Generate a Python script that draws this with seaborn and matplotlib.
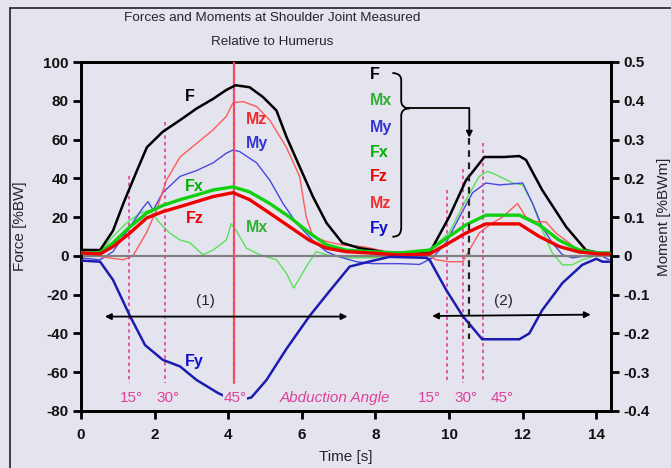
import numpy as np
import pandas as pd
import matplotlib
matplotlib.use("Agg")
import matplotlib.pyplot as plt
from matplotlib.path import Path
from matplotlib.patches import PathPatch
from matplotlib.lines import Line2D
import seaborn as sns

# ---------------- data ----------------
t_F = [0, 0.52, 0.87, 1.15, 1.52, 1.79, 2.22, 2.69, 3.14, 3.59, 3.95, 4.2, 4.58, 4.94, 5.31, 5.58,
       5.94, 6.3, 6.67, 7.1, 7.57, 7.92, 8.3, 8.93, 9.47, 10.0, 10.46, 10.96, 11.5, 11.91, 12.09,
       12.53, 13.18, 13.72, 14.08, 14.35]
F = [3.1, 3, 13, 27, 44, 56, 64, 70, 76, 81, 85.6, 88, 87, 82, 75, 61.5,
     46, 30.6, 17, 6.7, 4, 3, 1.5, 1.7, 1.5, 20, 39, 51, 51, 51.5, 49.5,
     34, 15, 3, 1.5, 1.5]

t_Fxz = [0, 0.52, 0.87, 1.33, 1.78, 2.22, 2.69, 3.14, 3.59, 4.13, 4.58, 5.13, 5.67, 6.21, 6.67,
         7.2, 7.84, 8.65, 9.47, 10.0, 10.46, 11.0, 11.91, 12.45, 13.0, 13.54, 14.08, 14.35]
Fx = [1.5, 1.7, 6.7, 15, 22, 26, 29, 31.4, 34, 35.6, 33, 27, 20, 11.8, 5.7,
      3, 2.2, 1.5, 3, 10, 16, 21, 21, 16, 8, 3, 1.5, 1.5]
Fz = [1.5, 1, 4.8, 11.8, 19.5, 22.8, 25.4, 28, 30.6, 32.6, 29, 22, 15, 8, 4,
      2.2, 1.5, 0.5, 1, 6.7, 11.8, 16.5, 16.5, 10, 4.8, 2, 1, 1]

t_Fy = [0, 0.52, 0.87, 1.33, 1.74, 2.22, 2.69, 3.14, 3.72, 4.2, 4.63, 5.04, 5.58, 6.21, 6.76,
        7.3, 7.84, 8.38, 9.38, 9.47, 9.92, 10.37, 10.9, 11.91, 12.18, 12.53, 13.08, 13.62,
        14.0, 14.17, 14.35]
Fy = [-2.4, -3, -12.4, -31, -46, -53.6, -57, -64, -70.7, -75, -73, -64, -48, -31, -18,
      -5.5, -2.9, -0.5, -1, -2, -17.5, -31, -43, -43, -40, -28, -14, -4.6,
      -1.5, -3, -3]

t_Mx = [0, 0.52, 0.87, 1.24, 1.6, 1.87, 2.14, 2.41, 2.69, 2.96, 3.31, 3.59, 3.95, 4.08, 4.22,
        4.49, 4.86, 5.31, 5.58, 5.78, 6.12, 6.39, 6.67, 7.2, 7.9, 8.65, 9.47, 10.0, 10.46,
        10.82, 11.04, 11.28, 11.73, 12.0, 12.27, 12.53, 12.8, 13.08, 13.35, 13.62, 14.08, 14.35]
Mx = [0.003, 0.011, 0.05, 0.085, 0.11, 0.118, 0.085, 0.059, 0.041, 0.034, 0.003, 0.015, 0.041,
      0.083, 0.065, 0.02, 0.003, -0.01, -0.045, -0.083, -0.028, 0.011, 0.003, -0.005, -0.005,
      0.003, 0.015, 0.059, 0.145, 0.205, 0.218, 0.209, 0.188, 0.183, 0.135, 0.067, 0.008,
      -0.023, -0.023, -0.01, 0.003, 0.0]

t_My = [0, 0.52, 0.87, 1.33, 1.69, 1.82, 1.96, 2.22, 2.69, 3.14, 3.59, 3.95, 4.13, 4.31, 4.77,
        5.13, 5.49, 5.85, 6.3, 6.67, 6.94, 7.48, 7.92, 8.65, 9.2, 9.55, 9.92, 10.28, 10.64,
        11.0, 11.37, 12.0, 12.27, 12.53, 12.8, 13.08, 13.35, 13.72, 14.08, 14.35]
My = [-0.005, -0.010, 0.011, 0.075, 0.125, 0.14, 0.118, 0.163, 0.205, 0.22, 0.24, 0.265, 0.273,
      0.269, 0.24, 0.195, 0.135, 0.085, 0.04, 0.011, 0.0, -0.015, -0.02, -0.02, -0.022, -0.005,
      0.034, 0.10, 0.163, 0.188, 0.183, 0.188, 0.135, 0.075, 0.034, 0.003, -0.005, 0.0, 0.003,
      -0.010]

t_Mz = [0, 0.52, 1.15, 1.41, 1.78, 2.05, 2.32, 2.69, 3.14, 3.59, 3.95, 4.13, 4.4, 4.77, 5.13,
        5.58, 5.94, 6.12, 6.3, 6.67, 7.1, 7.66, 8.3, 8.65, 9.47, 9.65, 10.0, 10.37, 10.55,
        10.82, 11.1, 11.45, 11.86, 12.09, 12.36, 12.63, 12.9, 13.27, 13.54, 14.08, 14.35]
Mz = [0.011, -0.002, -0.010, 0.0, 0.060, 0.118, 0.195, 0.255, 0.29, 0.325, 0.36, 0.395, 0.398,
      0.385, 0.35, 0.28, 0.205, 0.10, 0.05, 0.037, 0.028, 0.024, 0.011, 0.003, 0.0, -0.010,
      -0.015, -0.015, 0.015, 0.059, 0.08, 0.10, 0.135, 0.10, 0.088, 0.088, 0.059, 0.033,
      0.008, 0.008, 0.005]

force_ticks = [100, 80, 60, 40, 20, 0, -20, -40, -60, -80]
moment_ticks = [0.5, 0.4, 0.3, 0.2, 0.1, 0, -0.1, -0.2, -0.3, -0.4]
moment_labels = ["0.5", "0.4", "0.3", "0.2", "0.1", "0", "-0.1", "-0.2", "-0.3", "-0.4"]
time_ticks = [0, 2, 4, 6, 8, 10, 12, 14]

legend_names = ["F", "Mx", "My", "Fx", "Fz", "Mz", "Fy"]
angle_labels = ["15°", "30°", "45°"]
angle_times_1 = [1.31, 2.28, 4.15]
angle_times_2 = [9.94, 10.39, 10.91]

# ---------------- style ----------------
BG = "#E4E4EE"
sns.set_theme(style="white", rc={"axes.facecolor": BG, "figure.facecolor": BG,
                                 "savefig.facecolor": BG})
plt.rcParams["font.family"] = ["Liberation Sans", "DejaVu Sans"]
plt.rcParams["axes.unicode_minus"] = False

fig = plt.figure(figsize=(6.71, 4.68), dpi=100)
ax = fig.add_axes([81 / 671, 57 / 468, 530 / 671, 349 / 468])
ax2 = ax.twinx()

C_F = "#000000"
C_FX = "#10D010"
C_FZ = "#EE0000"
C_FY = "#1C1CB0"
C_MX = "#5CE05C"
C_MY = "#4848E0"
C_MZ = "#FF5A5A"
PINK = "#E0409A"

# zero line
ax.axhline(0, color="#808080", lw=1.6, zorder=1)

# moments (right axis)
for tt, vv, cc in [(t_Mx, Mx, C_MX), (t_My, My, C_MY), (t_Mz, Mz, C_MZ)]:
    sns.lineplot(x=tt, y=vv, ax=ax2, color=cc, lw=1.0, estimator=None, zorder=2)

# forces (left axis)
sns.lineplot(x=t_F, y=F, ax=ax, color=C_F, lw=1.8, estimator=None, zorder=4)
sns.lineplot(x=t_Fxz, y=Fx, ax=ax, color=C_FX, lw=2.4, estimator=None, zorder=4)
sns.lineplot(x=t_Fxz, y=Fz, ax=ax, color=C_FZ, lw=2.4, estimator=None, zorder=4)
sns.lineplot(x=t_Fy, y=Fy, ax=ax, color=C_FY, lw=1.8, estimator=None, zorder=4)

ax.set_xlim(0, 14.4)
ax.set_ylim(-80, 100)
ax2.set_ylim(-0.4, 0.5)
ax.set_xticks(time_ticks)
ax.set_yticks(force_ticks)
ax2.set_yticks(moment_ticks)
ax2.set_yticklabels(moment_labels)

for a in (ax, ax2):
    for s in a.spines.values():
        s.set_color("black")
        s.set_linewidth(2)
ax.tick_params(axis="both", which="major", direction="out", length=6, width=2,
               labelsize=11, colors="black", pad=3, left=True, bottom=True)
ax.tick_params(axis="x", pad=6)
ax2.tick_params(axis="y", direction="out", length=6, width=2, labelsize=11,
                colors="black", pad=3, right=True)
for lab in ax.get_xticklabels() + ax.get_yticklabels() + ax2.get_yticklabels():
    lab.set_fontweight("bold")
    lab.set_color("#111111")

ax.set_xlabel("")
ax.set_ylabel("")
ax2.set_ylabel("")
fig.text(20 / 671, 1 - 226 / 468, "Force [%BW]", rotation=90, ha="center", va="center",
         fontsize=11)
fig.text(664 / 671, 1 - 217 / 468, "Moment [%BWm]", rotation=90, ha="center", va="center",
         fontsize=11)
fig.text(346 / 671, 1 - 457 / 468, "Time [s]", ha="center", va="center", fontsize=11)
fig.text(272 / 671, 1 - 18 / 468, "Forces and Moments at Shoulder Joint Measured",
         ha="center", va="center", fontsize=9.7)
fig.text(272 / 671, 1 - 42 / 468, "Relative to Humerus", ha="center", va="center",
         fontsize=9.7)

# outer frame (left and top)
fig.add_artist(Line2D([10 / 671, 10 / 671], [0, 1 - 8 / 468], transform=fig.transFigure,
                      color="#222222", lw=1.2))
fig.add_artist(Line2D([10 / 671, 1], [1 - 8 / 468, 1 - 8 / 468], transform=fig.transFigure,
                      color="#222222", lw=1.2))

# abduction angle marker lines
ax.plot([4.15, 4.15], [100, -65.5], color="#FF5050", lw=1.6, zorder=3)
tops1 = [41, 69, 100]
tops2 = [34, 45, 58]
for tx, top in zip(angle_times_1 + angle_times_2, tops1 + tops2):
    ax.plot([tx, tx], [top, -65.5], color=PINK, lw=1.2, ls=(0, (2, 2)), zorder=3)

# angle labels
lab_bbox = dict(facecolor=BG, edgecolor="none", pad=0.5)
for tx, lab in zip([1.38, 2.36, 4.18], angle_labels):
    ax.text(tx, -73.2, lab, color=PINK, fontsize=11, ha="center", va="center",
            bbox=lab_bbox, zorder=6)
for tx, lab in zip([9.47, 10.46, 11.45], angle_labels):
    ax.text(tx, -73.2, lab, color=PINK, fontsize=11, ha="center", va="center",
            bbox=lab_bbox, zorder=6)
ax.text(6.89, -73.2, "Abduction Angle", color=PINK, fontsize=11, style="italic",
        ha="center", va="center", zorder=6)

# phase arrows
arrow_kw = dict(arrowstyle="<|-|>", color="black", lw=1.3, mutation_scale=9,
                shrinkA=0, shrinkB=0)
ax.annotate("", xy=(7.24, -31.3), xytext=(0.65, -31.3), arrowprops=arrow_kw, zorder=5)
ax.annotate("", xy=(13.85, -30.3), xytext=(9.54, -31.0), arrowprops=arrow_kw, zorder=5)
ax.text(3.39, -23.5, "(1)", fontsize=11, ha="center", va="center")
ax.text(11.48, -23.5, "(2)", fontsize=11, ha="center", va="center")

# curve labels
curve_labels = [("F", 2.96, 82.1, C_F), ("Mz", 4.77, 70.1, "#EE2828"),
                ("My", 4.77, 58.2, "#3434D0"), ("Fx", 3.09, 35.7, "#00B000"),
                ("Fz", 3.09, 19.1, "#EE0000"), ("Mx", 4.77, 14.4, "#30B030"),
                ("Fy", 3.09, -54.5, "#1010C8")]
for name, tx, ty, cc in curve_labels:
    ax.text(tx, ty, name, color=cc, fontsize=11.5, fontweight="bold",
            ha="center", va="center", zorder=6)

# legend-like list with brace
leg_colors = ["#000000", "#30B030", "#3434D0", "#00B000", "#EE0000", "#EE3030", "#1010C8"]
leg_y = [93.3, 80.0, 66.0, 53.2, 40.7, 26.8, 13.9]
for name, cc, yy in zip(legend_names, leg_colors, leg_y):
    ax.text(7.84, yy, name, color=cc, fontsize=11.5, fontweight="bold",
            ha="left", va="center", zorder=6)

verts = [(8.46, 94.3), (8.64, 94.3), (8.70, 92.5), (8.70, 90.7),
         (8.70, 80.0),
         (8.70, 77.5), (8.78, 76.1), (8.93, 76.1),
         (8.78, 76.1), (8.70, 74.7), (8.70, 72.2),
         (8.70, 15.1),
         (8.70, 11.5), (8.64, 9.9), (8.46, 9.9)]
codes = [Path.MOVETO, Path.CURVE4, Path.CURVE4, Path.CURVE4,
         Path.LINETO,
         Path.CURVE4, Path.CURVE4, Path.CURVE4,
         Path.CURVE4, Path.CURVE4, Path.CURVE4,
         Path.LINETO,
         Path.CURVE4, Path.CURVE4, Path.CURVE4]
ax.add_patch(PathPatch(Path(verts, codes), fill=False, edgecolor="black", lw=1.3, zorder=6))

# connector from brace to dashed marker
ax.plot([8.93, 10.55], [76.1, 76.1], color="black", lw=1.3, zorder=6)
ax.annotate("", xy=(10.55, 61), xytext=(10.55, 76.1),
            arrowprops=dict(arrowstyle="-|>", color="black", lw=1.3, mutation_scale=9,
                            shrinkA=0, shrinkB=0), zorder=6)
ax.plot([10.55, 10.55], [61, -43], color="#222222", lw=1.6, ls=(0, (3, 2.5)), zorder=5)

ax.set_zorder(ax2.get_zorder() + 1)
ax.patch.set_visible(False)

fig.savefig("out.png", dpi=100)
